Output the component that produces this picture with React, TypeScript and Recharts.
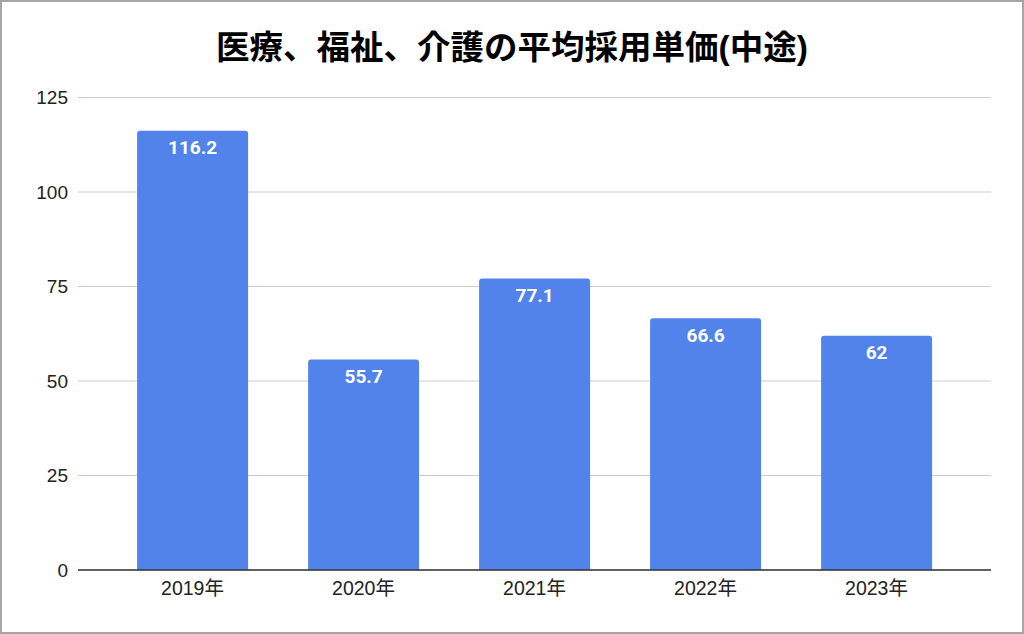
import { BarChart, Bar, XAxis, YAxis, CartesianGrid, LabelList } from "recharts";

const years = ["2019年", "2020年", "2021年", "2022年", "2023年"];
const unitPrices = [116.2, 55.7, 77.1, 66.6, 62];
const yTicks = [0, 25, 50, 75, 100, 125];

const data = years.map((year, i) => ({ year, value: unitPrices[i] }));

const font = '"Liberation Sans", Arial, "Noto Sans CJK JP", sans-serif';

export default function App() {
  return (
    <div
      style={{
        position: "absolute",
        top: 0,
        left: 0,
        width: 1024,
        height: 634,
        boxSizing: "border-box",
        border: "2px solid #a6a6a6",
        background: "#fff",
        fontFamily: font,
      }}
    >
      <div
        style={{
          position: "absolute",
          top: 26,
          left: 0,
          width: 1020,
          textAlign: "center",
          fontSize: 33.5,
          fontWeight: "bold",
          lineHeight: "40px",
          color: "#000",
        }}
      >
        医療、福祉、介護の平均採用単価(中途)
      </div>
      <BarChart
        width={1020}
        height={630}
        data={data}
        margin={{ top: 95.5, right: 31, left: 0, bottom: 0 }}
        barCategoryGap="17.6%"
        style={{ position: "absolute", top: 0, left: 0 }}
      >
        <CartesianGrid vertical={false} stroke="#cccccc" />
        <XAxis
          dataKey="year"
          axisLine={{ stroke: "#333", strokeWidth: 1.5 }}
          tickLine={false}
          tickSize={0}
          tickMargin={11}
          height={62}
          padding={{ left: 29, right: 29 }}
          tick={{ fill: "#222", fontSize: 19.5, fontFamily: font }}
        />
        <YAxis
          domain={[0, 125]}
          ticks={yTicks}
          axisLine={false}
          tickLine={false}
          tickSize={0}
          tickMargin={10}
          width={76}
          tick={{ fill: "#222", fontSize: 19, fontFamily: font }}
        />
        <Bar dataKey="value" fill="#5283eb" radius={[3, 3, 0, 0]} isAnimationActive={false}>
          <LabelList
            dataKey="value"
            position="insideTop"
            offset={10}
            fill="#fff"
            style={{ fontSize: 19, fontWeight: "bold", fontFamily: 'Roboto, "Liberation Sans", sans-serif' }}
          />
        </Bar>
      </BarChart>
    </div>
  );
}
